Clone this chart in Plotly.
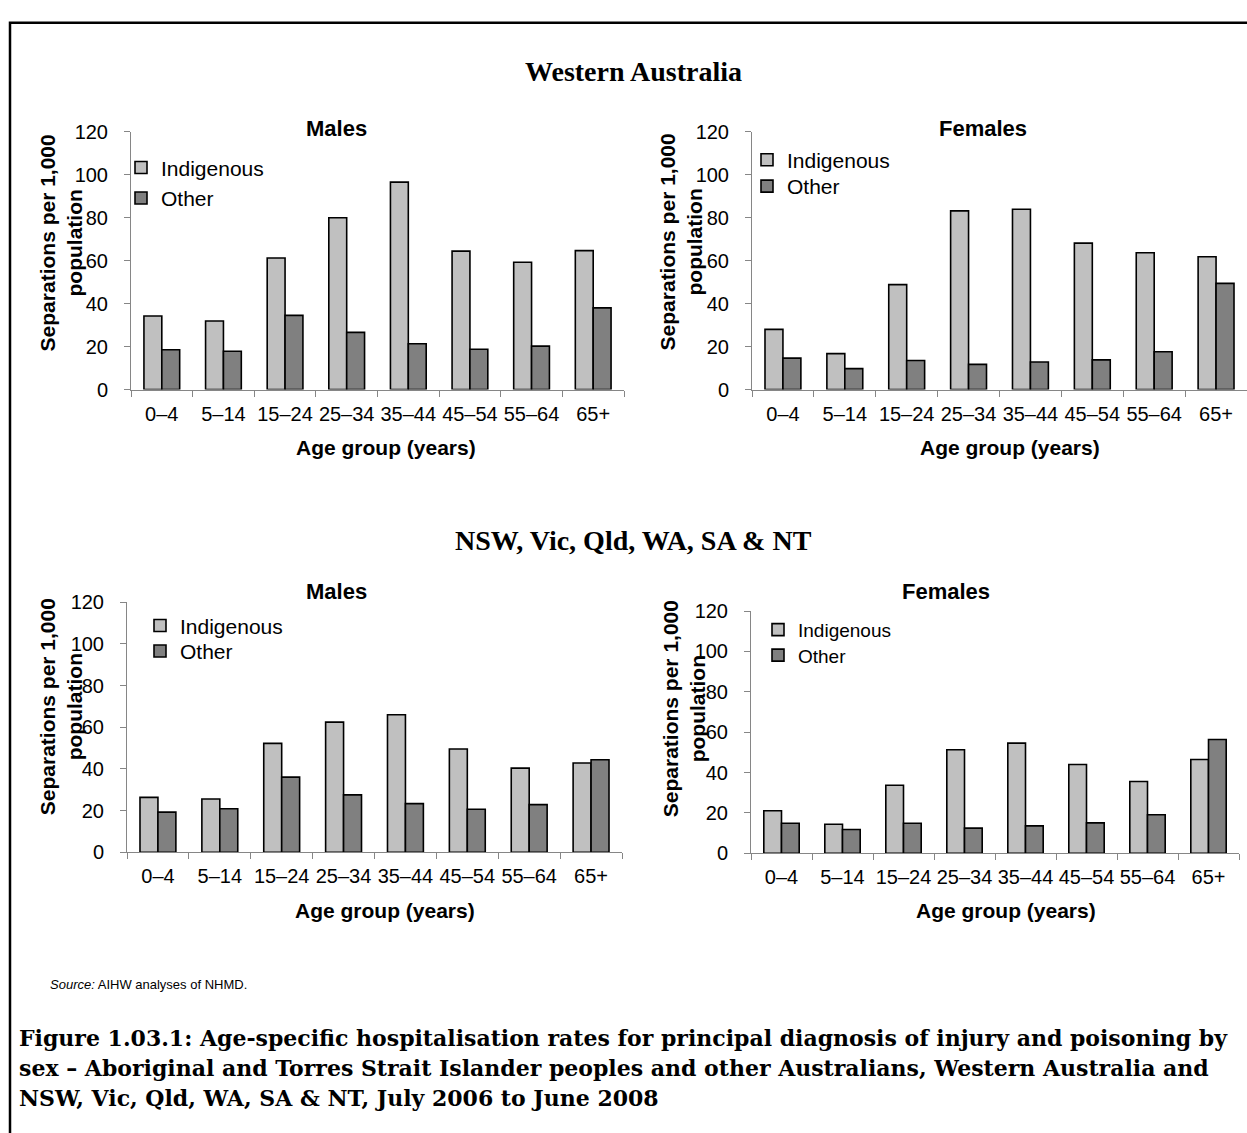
import plotly.graph_objects as go

W, H = 1247, 1133

age_groups = ["0–4", "5–14", "15–24", "25–34", "35–44", "45–54", "55–64", "65+"]
series_names = ["Indigenous", "Other"]
y_ticks = [0, 20, 40, 60, 80, 100, 120]

wa_males_indigenous = [34.2, 31.9, 61.2, 79.9, 96.5, 64.4, 59.2, 64.6]
wa_males_other = [18.5, 17.8, 34.5, 26.6, 21.3, 18.7, 20.2, 38.0]
wa_females_indigenous = [28.0, 16.7, 48.8, 83.1, 83.9, 68.1, 63.6, 61.8]
wa_females_other = [14.6, 9.7, 13.5, 11.7, 12.8, 13.8, 17.6, 49.4]
six_males_indigenous = [26.4, 25.6, 52.3, 62.5, 66.0, 49.6, 40.4, 42.9]
six_males_other = [19.3, 20.9, 36.1, 27.6, 23.4, 20.7, 22.9, 44.4]
six_females_indigenous = [21.1, 14.4, 33.7, 51.3, 54.6, 44.0, 35.6, 46.5]
six_females_other = [14.9, 11.8, 14.9, 12.5, 13.6, 15.1, 19.1, 56.4]

heading_top = "Western Australia"
heading_bottom = "NSW, Vic, Qld, WA, SA & NT"
panel_titles = ["Males", "Females", "Males", "Females"]
x_title = "Age group (years)"
y_title = "Separations per 1,000<br>population"
source_text = "<i>Source:</i> AIHW analyses of NHMD."
caption_lines = [
    "Figure 1.03.1: Age-specific hospitalisation rates for principal diagnosis of injury and poisoning by",
    "sex – Aboriginal and Torres Strait Islander peoples and other Australians, Western Australia and",
    "NSW, Vic, Qld, WA, SA & NT, July 2006 to June 2008",
]

COL_IND = "#c0c0c0"
COL_OTH = "#808080"
AXIS_COL = "#868686"
SANS = "Liberation Sans, Arial, sans-serif"
SERIF_HEAD = "Liberation Serif, Times New Roman, serif"
SERIF_CAP = "DejaVu Serif, serif"


def fx(p):
    return p / W


def fy(p):
    return 1 - p / H


# panel geometry in pixels: (x0, x1, y_top, y_bottom)
panels = [
    (131, 624, 123, 386),
    (752, 1247, 123, 386),
    (127, 622, 603, 858),
    (751, 1239, 612, 859),
]
data_pairs = [
    (wa_males_indigenous, wa_males_other),
    (wa_females_indigenous, wa_females_other),
    (six_males_indigenous, six_males_other),
    (six_females_indigenous, six_females_other),
]
# legend: (text left x, y of Indigenous item, y of Other item)
legend_pos = [(161, 160, 191), (787, 152, 179), (180, 627, 653), (798, 631, 657)]
legend_font = [21, 21, 21, 19]
panel_title_pos = [(336, 120), (983, 120), (336, 592), (946, 592)]
x_title_pos = [(386, 445), (1010, 445), (385, 917), (1006, 917)]
y_title_pos = [(61, 237), (681, 236), (61, 710), (684, 712)]

fig = go.Figure()
layout = dict(
    width=W, height=H,
    margin=dict(l=0, r=0, t=0, b=0),
    paper_bgcolor="white", plot_bgcolor="white",
    barmode="group", bargap=0.42, bargroupgap=0.0,
    showlegend=True,
)

annotations = []
leg_idx = 0
for i, ((x0, x1, yt, yb), (ind, oth)) in enumerate(zip(panels, data_pairs)):
    n = "" if i == 0 else str(i + 1)
    lx, ly_ind, ly_oth = legend_pos[i]
    for name, vals, col, ly in ((series_names[0], ind, COL_IND, ly_ind),
                                (series_names[1], oth, COL_OTH, ly_oth)):
        leg_idx += 1
        leg = "legend" if leg_idx == 1 else f"legend{leg_idx}"
        fig.add_trace(go.Bar(
            x=age_groups, y=vals, name=name,
            marker=dict(color=col, line=dict(color="black", width=1.6)),
            xaxis="x" + n, yaxis="y" + n, legend=leg,
        ))
        layout[leg] = dict(
            x=fx(lx - 40), y=fy(ly), xanchor="left", yanchor="middle",
            bgcolor="rgba(0,0,0,0)", borderwidth=0,
            font=dict(family=SANS, size=legend_font[i], color="black"),
            itemclick=False, itemdoubleclick=False,
        )
    layout["xaxis" + n] = dict(
        domain=[fx(x0), fx(x1)], anchor="y" + n,
        type="category", showline=True, linecolor=AXIS_COL, linewidth=1,
        ticks="outside", tickson="boundaries", ticklen=6, tickcolor=AXIS_COL,
        tickangle=0,
        tickfont=dict(family=SANS, size=20, color="black"),
        showgrid=False, zeroline=False, fixedrange=True,
        ticklabelstandoff=6,
    )
    layout["yaxis" + n] = dict(
        domain=[fy(yb), fy(yt)], anchor="x" + n,
        range=[0, 120], tickvals=y_ticks, showline=True, linecolor=AXIS_COL, linewidth=1,
        ticks="outside", ticklen=6, tickcolor=AXIS_COL,
        tickfont=dict(family=SANS, size=20, color="black"),
        showgrid=False, zeroline=False, fixedrange=True,
        ticklabelstandoff=12,
    )
    tx, ty = panel_title_pos[i]
    annotations.append(dict(text="<b>" + panel_titles[i] + "</b>", x=fx(tx), y=fy(ty),
                            xref="paper", yref="paper", showarrow=False,
                            xanchor="center", yanchor="middle",
                            font=dict(family=SANS, size=22, color="black")))
    ax, ay = x_title_pos[i]
    annotations.append(dict(text="<b>" + x_title + "</b>", x=fx(ax), y=fy(ay),
                            xref="paper", yref="paper", showarrow=False,
                            xanchor="center", yanchor="middle",
                            font=dict(family=SANS, size=21, color="black")))
    yx, yy = y_title_pos[i]
    annotations.append(dict(text="<b>" + y_title + "</b>", x=fx(yx), y=fy(yy),
                            xref="paper", yref="paper", showarrow=False, textangle=-90,
                            xanchor="center", yanchor="middle",
                            font=dict(family=SANS, size=21, color="black")))

annotations.append(dict(text="<b>" + heading_top + "</b>", x=fx(633), y=fy(62),
                        xref="paper", yref="paper", showarrow=False,
                        xanchor="center", yanchor="middle",
                        font=dict(family=SERIF_HEAD, size=28, color="black")))
annotations.append(dict(text="<b>" + heading_bottom + "</b>", x=fx(633), y=fy(540),
                        xref="paper", yref="paper", showarrow=False,
                        xanchor="center", yanchor="middle",
                        font=dict(family=SERIF_HEAD, size=28, color="black")))
annotations.append(dict(text=source_text, x=fx(48), y=fy(993),
                        xref="paper", yref="paper", showarrow=False,
                        xanchor="left", yanchor="middle",
                        font=dict(family=SANS, size=13, color="black")))
for k, line in enumerate(caption_lines):
    annotations.append(dict(text="<b>" + line + "</b>", x=fx(17), y=fy(1047 + 31 * k),
                            xref="paper", yref="paper", showarrow=False,
                            xanchor="left", yanchor="middle",
                            font=dict(family=SERIF_CAP, size=22, color="black")))

layout["annotations"] = annotations
layout["shapes"] = [dict(
    type="path", xref="paper", yref="paper",
    path=f"M {fx(10)} {-0.01} L {fx(10)} {fy(12)} L {1.01} {fy(12)}",
    line=dict(color="black", width=2.5),
)]

fig.update_layout(**layout)
fig.write_html("out.html", config={"displayModeBar": False})
